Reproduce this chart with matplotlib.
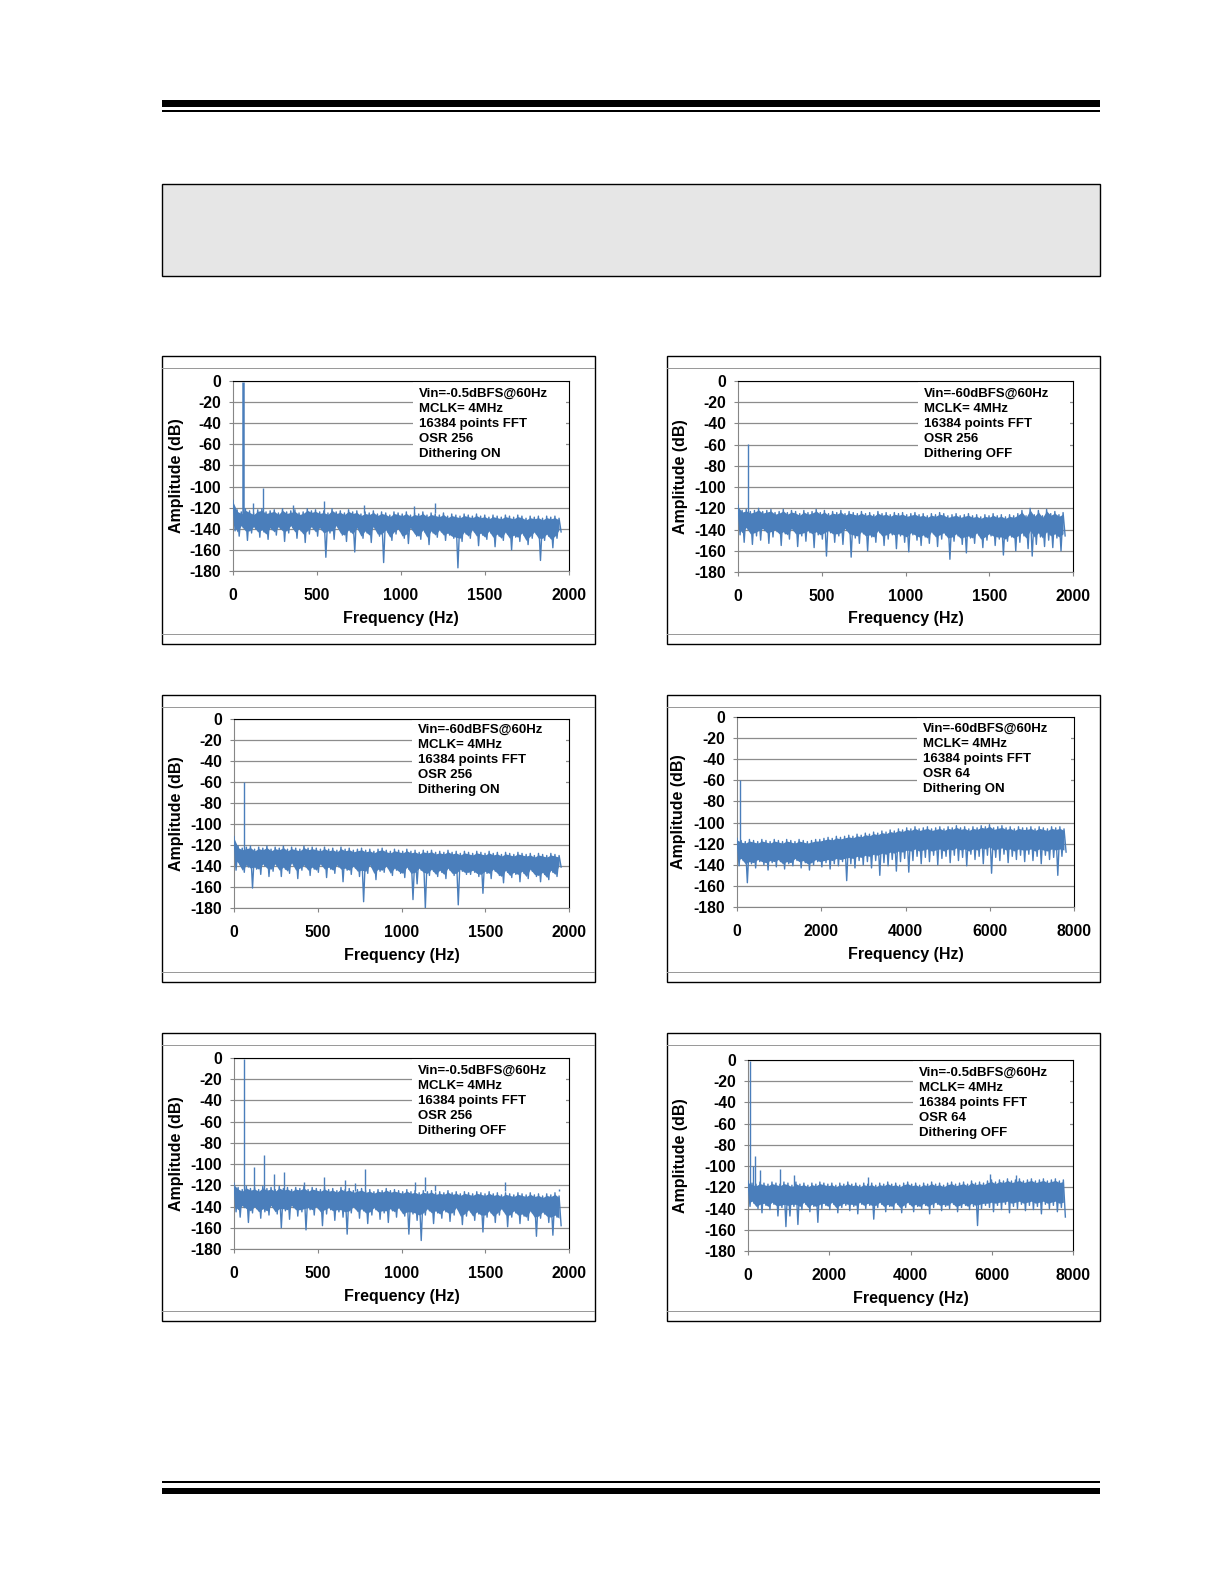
import numpy as np
import matplotlib
matplotlib.use("Agg")
import matplotlib.pyplot as plt
from matplotlib.patches import Rectangle

# page size in pixels (dpi 100)
W, H = 1224, 1584

# ---- data ----
# noise floor traces (dB), evenly spaced FFT bins from 0 Hz to Nyquist
noise_1 = [
    -113, -142, -122, -147, -124, -139, -121, -151, -123, -144, -125, -140, -122, -148, -121, -143, -124, -150, -123, -141,
    -122, -146, -125, -140, -121, -152, -124, -144, -123, -139, -122, -149, -125, -142, -124, -153, -121, -145, -123, -140,
    -122, -147, -124, -141, -123, -167, -125, -144, -121, -150, -124, -139, -123, -146, -125, -152, -122, -143, -124, -162,
    -123, -141, -126, -149, -124, -144, -125, -153, -123, -140, -126, -147, -124, -172, -125, -143, -127, -151, -124, -145,
    -125, -142, -126, -149, -124, -154, -127, -141, -125, -147, -126, -150, -124, -143, -127, -155, -125, -144, -126, -148,
    -127, -143, -125, -151, -128, -146, -126, -149, -127, -177, -128, -152, -126, -145, -127, -149, -128, -143, -126, -156,
    -128, -146, -127, -150, -129, -144, -127, -157, -128, -147, -129, -151, -127, -145, -128, -160, -129, -148, -127, -152,
    -128, -146, -130, -155, -128, -149, -129, -145, -128, -170, -130, -151, -128, -147, -129, -158, -128, -149, -130, -143,
]
noise_2 = [
    -117, -145, -122, -152, -121, -140, -123, -154, -122, -146, -120, -150, -123, -141, -122, -153, -121, -147, -124, -142,
    -123, -155, -121, -144, -124, -149, -122, -141, -123, -156, -125, -146, -122, -151, -124, -143, -123, -157, -121, -145,
    -124, -149, -122, -165, -125, -143, -123, -152, -124, -146, -122, -154, -125, -141, -123, -166, -124, -148, -125, -153,
    -123, -144, -125, -160, -124, -147, -126, -152, -123, -143, -125, -155, -124, -149, -126, -145, -124, -158, -125, -146,
    -124, -152, -126, -161, -125, -145, -124, -150, -126, -155, -125, -147, -127, -153, -125, -144, -126, -156, -124, -149,
    -125, -145, -127, -168, -126, -151, -125, -146, -127, -154, -126, -162, -125, -148, -127, -153, -126, -145, -128, -157,
    -126, -150, -127, -146, -125, -155, -127, -149, -126, -164, -128, -151, -126, -147, -127, -160, -125, -152, -122, -146,
    -127, -158, -120, -165, -126, -154, -122, -147, -127, -156, -121, -150, -125, -157, -123, -148, -126, -160, -124, -146,
]
noise_3 = [
    -112, -144, -121, -139, -123, -146, -122, -141, -121, -161, -124, -143, -122, -148, -123, -140, -121, -150, -124, -145,
    -122, -140, -123, -150, -121, -143, -124, -147, -122, -139, -123, -152, -124, -144, -121, -141, -123, -149, -122, -143,
    -123, -146, -124, -140, -122, -151, -124, -143, -123, -147, -125, -141, -122, -155, -124, -144, -123, -148, -125, -142,
    -124, -150, -123, -174, -125, -147, -124, -141, -126, -153, -124, -145, -123, -146, -125, -142, -126, -149, -124, -144,
    -125, -147, -126, -151, -124, -143, -126, -172, -125, -157, -127, -144, -125, -180, -126, -149, -125, -145, -127, -150,
    -126, -146, -127, -152, -125, -144, -127, -149, -126, -177, -128, -145, -126, -148, -127, -148, -128, -146, -126, -150,
    -127, -166, -128, -147, -126, -152, -128, -145, -127, -149, -129, -156, -127, -146, -128, -151, -129, -148, -127, -155,
    -128, -147, -129, -152, -128, -145, -130, -150, -128, -155, -129, -148, -130, -153, -128, -146, -129, -150, -130, -141,
]
noise_4 = [
    -115, -141, -117, -136, -118, -157, -116, -139, -117, -143, -118, -137, -116, -140, -117, -145, -118, -138, -116, -142,
    -117, -137, -118, -144, -116, -139, -117, -141, -118, -136, -116, -143, -117, -138, -118, -145, -117, -140, -116, -137,
    -116, -142, -115, -138, -114, -144, -115, -139, -113, -141, -114, -137, -113, -155, -112, -139, -113, -143, -111, -136,
    -112, -140, -110, -137, -111, -143, -109, -136, -110, -150, -108, -138, -109, -141, -107, -135, -108, -146, -106, -137,
    -107, -134, -105, -147, -106, -136, -104, -132, -106, -139, -105, -133, -104, -137, -106, -131, -105, -140, -104, -134,
    -106, -132, -104, -138, -105, -131, -103, -136, -105, -133, -104, -141, -106, -130, -104, -135, -105, -132, -103, -139,
    -104, -131, -102, -148, -105, -133, -104, -136, -103, -130, -105, -138, -104, -132, -106, -135, -104, -131, -105, -137,
    -105, -130, -104, -136, -106, -132, -104, -139, -105, -131, -106, -135, -104, -133, -105, -150, -104, -132, -106, -128,
]
noise_5 = [
    -118, -145, -122, -150, -124, -141, -121, -155, -123, -146, -122, -142, -124, -151, -121, -145, -123, -148, -122, -141,
    -124, -147, -121, -160, -123, -144, -122, -152, -124, -141, -122, -149, -123, -145, -121, -162, -124, -143, -122, -148,
    -123, -142, -124, -158, -122, -147, -124, -143, -123, -153, -125, -145, -122, -150, -124, -166, -123, -146, -125, -142,
    -124, -151, -123, -144, -125, -156, -124, -148, -126, -143, -124, -152, -125, -146, -123, -155, -125, -144, -124, -150,
    -125, -143, -126, -149, -124, -166, -126, -147, -125, -153, -127, -172, -125, -148, -126, -144, -125, -156, -127, -146,
    -126, -151, -127, -145, -125, -154, -127, -148, -126, -143, -128, -157, -126, -149, -127, -145, -128, -153, -126, -147,
    -127, -164, -128, -150, -126, -146, -128, -155, -127, -148, -129, -144, -127, -159, -128, -150, -129, -146, -127, -156,
    -128, -149, -129, -153, -127, -146, -129, -168, -128, -151, -130, -147, -128, -155, -129, -167, -127, -150, -130, -158,
]
noise_6 = [
    -114, -138, -116, -135, -117, -140, -115, -144, -116, -137, -117, -141, -115, -136, -116, -147, -117, -139, -115, -157,
    -116, -147, -118, -138, -115, -155, -117, -141, -116, -136, -118, -143, -116, -138, -117, -153, -115, -140, -116, -137,
    -117, -141, -116, -136, -118, -144, -116, -139, -117, -137, -115, -142, -117, -138, -116, -145, -118, -136, -116, -140,
    -117, -137, -116, -150, -118, -139, -116, -136, -117, -143, -115, -138, -117, -141, -116, -136, -118, -144, -116, -139,
    -115, -136, -117, -143, -116, -138, -118, -140, -116, -137, -117, -145, -115, -139, -117, -136, -116, -142, -118, -138,
    -116, -140, -115, -136, -117, -143, -116, -139, -115, -137, -117, -141, -114, -138, -116, -156, -115, -140, -116, -137,
    -114, -139, -113, -143, -115, -137, -113, -141, -114, -136, -112, -144, -114, -138, -113, -140, -112, -136, -114, -142,
    -113, -137, -112, -141, -114, -138, -113, -145, -112, -136, -114, -140, -113, -137, -112, -143, -114, -139, -113, -148,
]
nyquist = [1953, 1953, 1953, 7812, 1953, 7812]

# input tone (60 Hz) level in each plot
tone_freq = 60
tone_db = [-0.5, -59, -60, -60, -0.5, -0.5]

# harmonics / spurs
spur_f_1 = [120, 180, 360, 540, 780, 1080, 1200]
spur_db_1 = [-116, -101, -117, -114, -117, -118, -116]
spur_f_5 = [120, 180, 240, 300, 420, 540, 660, 720, 780, 1080, 1140, 1200, 1620, 1940]
spur_db_5 = [-103, -91, -109, -107, -117, -112, -115, -118, -105, -117, -112, -120, -117, -123]
spur_f_6 = [120, 180, 300, 780, 1140, 2950, 5950, 6600]
spur_db_6 = [-100, -90, -104, -103, -108, -110, -107, -108]

vin_text = ["-0.5dBFS", "-60dBFS", "-60dBFS", "-60dBFS", "-0.5dBFS", "-0.5dBFS"]
osr_text = ["256", "256", "256", "64", "256", "64"]
dither_text = ["ON", "OFF", "ON", "ON", "OFF", "OFF"]

x_max = [2000, 2000, 2000, 8000, 2000, 8000]
x_step = [500, 500, 500, 2000, 500, 2000]

# ---- layout (pixels) ----
plot_box = [  # left, right, top, bottom of the plot areas
    (233, 569, 381, 571), (738, 1073, 381, 572),
    (234, 569, 719, 908), (737, 1074, 717, 907),
    (234, 569, 1058, 1249), (748, 1073, 1060, 1251),
]
frame_box = [
    (162, 595, 356, 644), (667, 1100, 356, 644),
    (162, 595, 695, 982), (667, 1100, 695, 982),
    (162, 595, 1033, 1321), (667, 1100, 1033, 1321),
]
note_pos = [(419, 394), (924, 394), (418, 730), (923, 729), (418, 1071), (919, 1073)]
ylabel_x = [176, 680, 176, 678, 176, 681]

BLUE = '#4a7ebb'
AXIS_GRAY = '#868686'

plt.rcParams['font.family'] = ['Liberation Sans', 'DejaVu Sans']
plt.rcParams['font.weight'] = 'bold'
plt.rcParams['axes.unicode_minus'] = False


def fx(x):
    return x / W


def fy(y):
    return 1 - y / H


def page_rect(fig, x0, y0, x1, y1, **kw):
    fig.add_artist(Rectangle((fx(x0), fy(y1)), (x1 - x0) / W, (y1 - y0) / H,
                             transform=fig.transFigure, **kw))


fig = plt.figure(figsize=(W / 100, H / 100), dpi=100)

# header / footer rules and the grey title box
page_rect(fig, 162, 100, 1100, 107, facecolor='black', edgecolor='none')
page_rect(fig, 162, 110, 1100, 112, facecolor='black', edgecolor='none')
page_rect(fig, 162, 184, 1100, 276, facecolor='#e6e6e6', edgecolor='black', lw=1)
page_rect(fig, 162, 1481, 1100, 1483, facecolor='black', edgecolor='none')
page_rect(fig, 162, 1488, 1100, 1494, facecolor='black', edgecolor='none')

noises = [noise_1, noise_2, noise_3, noise_4, noise_5, noise_6]
spurs = {0: (spur_f_1, spur_db_1), 4: (spur_f_5, spur_db_5), 5: (spur_f_6, spur_db_6)}

for i in range(6):
    # chart frame with its two thin grey rules
    fl, fr, ft, fb = frame_box[i]
    page_rect(fig, fl, ft, fr, fb, facecolor='none', edgecolor='black', lw=1)
    page_rect(fig, fl, ft + 12, fr, ft + 13, facecolor='#9a9a9a', edgecolor='none')
    page_rect(fig, fl, fb - 10, fr, fb - 9, facecolor='#9a9a9a', edgecolor='none')

    l, r, t, b = plot_box[i]
    ax = fig.add_axes([fx(l), fy(b), (r - l) / W, (b - t) / H])

    vals = np.array(noises[i], dtype=float)
    freqs = np.linspace(0, nyquist[i], len(vals))
    # dense FFT trace shows as a solid band between local peaks and troughs;
    # keep the fill a little inside so the trace needles stick out on both sides
    tops, bots = vals[0::2], vals[1::2]
    ax.fill_between(freqs[0::2], tops - 1.5, np.maximum(bots + 2, tops - 21),
                    color=BLUE, lw=0, zorder=2.5)
    ax.plot(freqs, vals, color=BLUE, lw=1.0, zorder=3)
    ax.vlines(tone_freq, -125, tone_db[i], color=BLUE,
              lw=1.8 if i == 0 else 1.0, zorder=3)
    if i in spurs:
        ax.vlines(spurs[i][0], -125, spurs[i][1], color=BLUE, lw=1.0, zorder=3)

    ax.set_xlim(0, x_max[i])
    ax.set_ylim(-180, 0)
    ax.set_xticks(np.arange(0, x_max[i] + 1, x_step[i]))
    ax.set_yticks(np.arange(-180, 1, 20))
    ax.set_axisbelow(True)
    ax.yaxis.grid(True, color='#8c8c8c', lw=0.9)
    ax.tick_params(direction='out', length=3, color=AXIS_GRAY, labelsize=11.3)
    ax.tick_params(axis='y', pad=5.8)
    ax.tick_params(axis='x', pad=9.2)
    for side in ['left', 'bottom']:
        ax.spines[side].set_color(AXIS_GRAY)
    for side in ['top', 'right']:
        ax.spines[side].set_color('black')

    # legend-like note on a white patch
    nx, ny = note_pos[i]
    box_bottom = ny + 66
    ax.add_patch(Rectangle(((nx - 6 - l) / (r - l), (b - box_bottom) / (b - t)),
                           (r - 3 - (nx - 6)) / (r - l), (box_bottom - t) / (b - t),
                           transform=ax.transAxes, facecolor='white',
                           edgecolor='none', zorder=1.5))
    lines = ["Vin=" + vin_text[i] + "@60Hz", "MCLK= 4MHz", "16384 points FFT",
             "OSR " + osr_text[i], "Dithering " + dither_text[i]]
    for k, s in enumerate(lines):
        fig.text(fx(nx), fy(ny + k * 14.9), s, ha='left', va='center', fontsize=9.5)

    fig.text(fx((l + r) / 2), fy(b + 47), 'Frequency (Hz)', ha='center', va='center',
             fontsize=11.5)
    fig.text(fx(ylabel_x[i]), fy((t + b) / 2), 'Amplitude (dB)', ha='center',
             va='center', rotation=90, fontsize=11.5)

fig.savefig('out.png', dpi=100)
